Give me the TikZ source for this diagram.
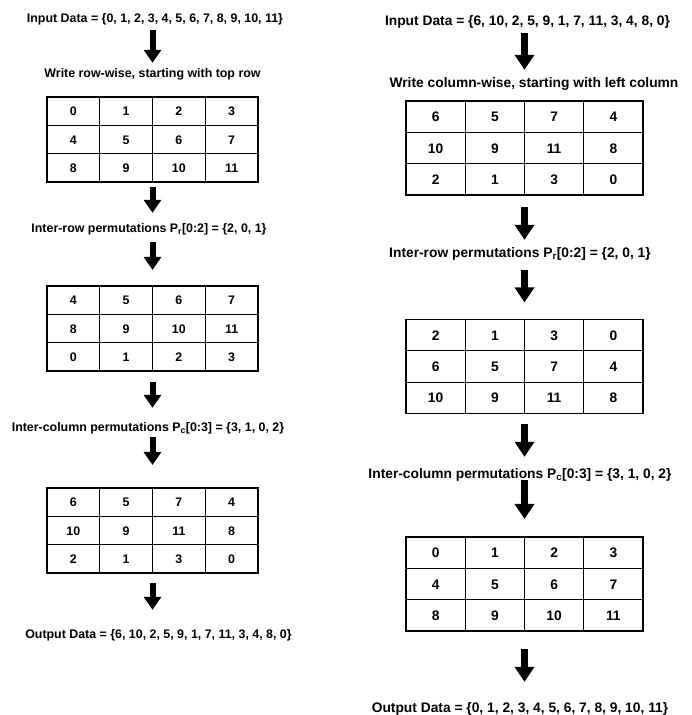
\documentclass[tikz,border=0pt]{standalone}
\usepackage{fontspec}
\setmainfont{Liberation Sans}
\usepackage{xcolor}
\usepackage{tikz}
\usetikzlibrary{matrix,arrows.meta}

\begin{document}
\begin{tikzpicture}[x=1pt, y=-1pt,
		txt/.style = {font=\bfseries\fontsize{12.4}{14}\selectfont, inner sep=0pt, text height=9pt, text depth=0pt},
		bigtxt/.style = {font=\bfseries\fontsize{13.8}{16}\selectfont, inner sep=0pt, text height=10pt, text depth=0pt},
		grid/.style = {matrix of nodes, column sep=-1.2pt, row sep=-1.2pt,
			nodes={draw, line width=1.2pt, minimum width=52.75pt, minimum height=28.3pt, txt}},
		biggrid/.style = {grid, nodes={minimum width=59.25pt, minimum height=31.3pt, bigtxt}},
		down/.style = {line width=6pt, -{Triangle[width=17pt,length=13pt]}},
		bigdown/.style = {line width=7.5pt, -{Triangle[width=19pt,length=15pt]}}]
	\useasboundingbox (0,0) rectangle (691,715);

	% row-wise write, column-wise read
	\node[txt] (in1) at (155,18) {Input Data = \{0, 1, 2, 3, 4, 5, 6, 7, 8, 9, 10, 11\}};
	\node[txt] (wr1) at (152.5,73) {Write row-wise, starting with top row};
	\matrix (t1) [grid] at (152.5,139.5) {0 & 1 & 2 & 3 \\ 4 & 5 & 6 & 7 \\ 8 & 9 & 10 & 11 \\};
	\node[txt] (ir1) at (149,228) {Inter-row permutations P\textsubscript{r}[0:2] = \{2, 0, 1\}};
	\matrix (t2) [grid] at (152.5,328.5) {4 & 5 & 6 & 7 \\ 8 & 9 & 10 & 11 \\ 0 & 1 & 2 & 3 \\};
	\node[txt] (ic1) at (148,427) {Inter-column permutations P\textsubscript{c}[0:3] = \{3, 1, 0, 2\}};
	\matrix (t3) [grid] at (152.5,530.5) {6 & 5 & 7 & 4 \\ 10 & 9 & 11 & 8 \\ 2 & 1 & 3 & 0 \\};
	\node[txt] (out1) at (158.5,634) {Output Data = \{6, 10, 2, 5, 9, 1, 7, 11, 3, 4, 8, 0\}};

	\draw[down, shorten <=7.5pt, shorten >=5.5pt] (in1.south -| t1) -- (wr1.north -| t1);
	\draw[down, shorten <=0.5pt, shorten >=10.5pt] (t1.south) -- (ir1.north -| t1);
	\draw[down, shorten <=9.5pt, shorten >=12pt] (ir1.south -| t2) -- (t2.north);
	\draw[down, shorten <=7pt, shorten >=14.5pt] (t2.south) -- (ic1.north -| t2);
	\draw[down, shorten <=5.5pt, shorten >=19pt] (ic1.south -| t3) -- (t3.north);
	\draw[down, shorten <=6pt, shorten >=19.5pt] (t3.south) -- (out1.north -| t3);

	% column-wise write, row-wise read
	\node[bigtxt] (in2) at (527.5,20) {Input Data = \{6, 10, 2, 5, 9, 1, 7, 11, 3, 4, 8, 0\}};
	\node[bigtxt] (wr2) at (534,82) {Write column-wise, starting with left column};
	\matrix (t4) [biggrid] at (524.5,148) {6 & 5 & 7 & 4 \\ 10 & 9 & 11 & 8 \\ 2 & 1 & 3 & 0 \\};
	\node[bigtxt] (ir2) at (520,252) {Inter-row permutations P\textsubscript{r}[0:2] = \{2, 0, 1\}};
	\matrix (t5) [biggrid] at (524.5,366.5) {2 & 1 & 3 & 0 \\ 6 & 5 & 7 & 4 \\ 10 & 9 & 11 & 8 \\};
	\node[bigtxt] (ic2) at (520,473) {Inter-column permutations P\textsubscript{c}[0:3] = \{3, 1, 0, 2\}};
	\matrix (t6) [biggrid] at (524.5,584) {0 & 1 & 2 & 3 \\ 4 & 5 & 6 & 7 \\ 8 & 9 & 10 & 11 \\};
	\node[bigtxt] (out2) at (520,707) {Output Data = \{0, 1, 2, 3, 4, 5, 6, 7, 8, 9, 10, 11\}};

	\draw[bigdown, shorten <=8pt, shorten >=7pt] (in2.south -| t4) -- (wr2.north -| t4);
	\draw[bigdown, shorten <=8pt, shorten >=7pt] (t4.south) -- (ir2.north -| t4);
	\draw[bigdown, shorten <=13pt, shorten >=13pt] (ir2.south -| t5) -- (t5.north);
	\draw[bigdown, shorten <=6pt, shorten >=11pt] (t5.south) -- (ic2.north -| t5);
	\draw[bigdown, shorten <=2pt, shorten >=14pt] (ic2.south -| t6) -- (t6.north);
	\draw[bigdown, shorten <=14pt, shorten >=20pt] (t6.south) -- (out2.north -| t6);
\end{tikzpicture}
\end{document}
